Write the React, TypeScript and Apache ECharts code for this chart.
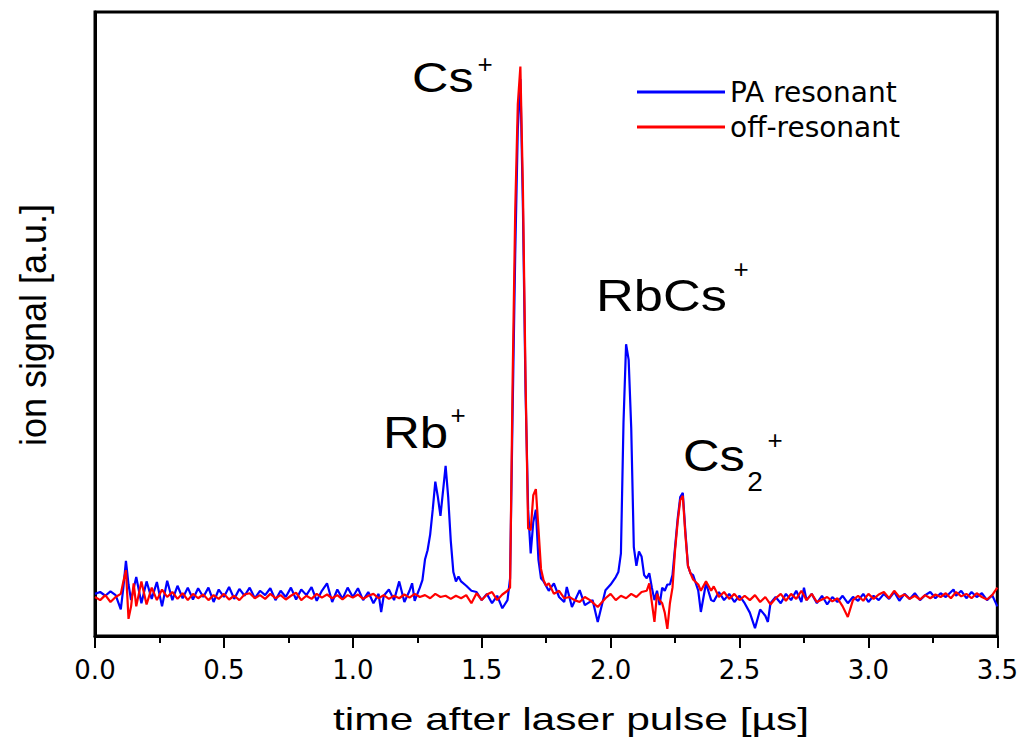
import React, { useEffect, useRef } from "react";
import * as echarts from "echarts";

// time [µs], ion signal [a.u.] (baseline ≈ 0)
const blueData: [number, number][] = [
  [0.0, 0.5], [0.02, 0.8], [0.04, 0.2], [0.06, 0.9], [0.08, 0.3], [0.1, -2.0], [0.11, 1.5], [0.12, 5.8], [0.13, 2.0], [0.14, -0.5],
  [0.16, 3.2], [0.18, -1.0], [0.2, 2.5], [0.22, -0.3], [0.24, 2.4], [0.26, -1.5], [0.28, 2.6], [0.3, -0.5], [0.32, 1.8], [0.34, -0.2],
  [0.36, 1.5], [0.38, -0.4], [0.4, 1.4], [0.42, 0.0], [0.44, 1.5], [0.46, -0.8], [0.48, 1.2], [0.5, 0.0], [0.52, 1.6], [0.54, -0.3],
  [0.56, 1.3], [0.58, 0.2], [0.6, 1.5], [0.62, -0.2], [0.64, 1.0], [0.66, 0.3], [0.68, 1.4], [0.7, -0.5], [0.72, 1.0], [0.74, 0.0],
  [0.76, 1.5], [0.78, -0.4], [0.8, 1.2], [0.82, 0.3], [0.84, 1.6], [0.86, -0.6], [0.88, 1.0], [0.9, 2.2], [0.92, -0.8], [0.94, 1.2],
  [0.96, -0.3], [0.98, 1.5], [1.0, 0.0], [1.02, 1.4], [1.04, -0.5], [1.06, 0.8], [1.08, -1.0], [1.1, 0.5], [1.11, -2.4], [1.12, 0.2],
  [1.14, 1.2], [1.16, -0.5], [1.18, 2.5], [1.2, -0.8], [1.22, 1.0], [1.23, 2.2], [1.24, -0.6], [1.26, 1.5], [1.27, 2.7], [1.28, 6.0],
  [1.29, 7.5], [1.3, 10.0], [1.31, 14.0], [1.32, 18.5], [1.33, 16.0], [1.34, 13.0], [1.35, 17.0], [1.36, 21.0], [1.37, 16.0], [1.38, 9.0],
  [1.39, 4.0], [1.4, 2.5], [1.41, 3.3], [1.42, 2.5], [1.44, 1.8], [1.46, 1.0], [1.48, 0.8], [1.5, -0.5], [1.52, 0.5], [1.54, -1.0],
  [1.56, 0.2], [1.58, -1.8], [1.6, -0.5], [1.61, 3.0], [1.62, 30.0], [1.63, 55.0], [1.64, 75.0], [1.65, 83.0], [1.66, 62.0], [1.67, 33.0],
  [1.68, 14.0], [1.69, 7.0], [1.7, 12.0], [1.71, 14.0], [1.72, 6.0], [1.73, 3.0], [1.74, 2.5], [1.76, 1.0], [1.78, 2.2], [1.8, 0.0],
  [1.82, -0.8], [1.83, 1.6], [1.85, -1.6], [1.88, 1.1], [1.9, -1.3], [1.93, -0.5], [1.95, -4.0], [1.98, 1.1], [2.0, 2.0], [2.01, 2.6],
  [2.02, 3.2], [2.03, 4.0], [2.04, 7.0], [2.05, 28.0], [2.06, 40.5], [2.07, 38.0], [2.08, 27.0], [2.09, 8.0], [2.1, 5.0], [2.11, 7.3],
  [2.12, 6.5], [2.13, 3.5], [2.14, 3.0], [2.15, 3.8], [2.16, 1.5], [2.17, -0.5], [2.18, 1.0], [2.19, -1.3], [2.2, 1.5], [2.21, 1.0],
  [2.22, 2.0], [2.23, 2.0], [2.24, 3.5], [2.25, 8.0], [2.26, 12.5], [2.27, 16.0], [2.28, 16.7], [2.29, 10.5], [2.3, 5.0], [2.31, 3.8],
  [2.32, 3.5], [2.34, 1.0], [2.35, -2.4], [2.37, 2.2], [2.39, -0.5], [2.4, -0.7], [2.42, 0.8], [2.44, -0.5], [2.46, 0.5], [2.48, -0.8],
  [2.5, 0.2], [2.52, -1.0], [2.54, -2.5], [2.56, -5.0], [2.58, -2.0], [2.6, -3.0], [2.61, -4.0], [2.62, -1.0], [2.64, 0.0], [2.66, -1.0],
  [2.68, 0.5], [2.7, -0.5], [2.72, 1.0], [2.74, -0.8], [2.75, 1.5], [2.76, -0.5], [2.78, 0.5], [2.8, -1.0], [2.82, 0.2], [2.84, -1.2],
  [2.86, 0.0], [2.88, -0.8], [2.9, 0.2], [2.92, -1.0], [2.94, 0.0], [2.96, -0.6], [2.98, 0.5], [3.0, -0.8], [3.02, 0.2], [3.04, -0.5],
  [3.06, 0.5], [3.08, -0.3], [3.1, 0.8], [3.12, -0.6], [3.14, 0.5], [3.16, -0.3], [3.18, 0.6], [3.2, -0.5], [3.22, 0.3], [3.24, 0.8],
  [3.26, -0.2], [3.28, 0.6], [3.3, 0.0], [3.33, 1.2], [3.34, 0.2], [3.36, 1.0], [3.38, -0.2], [3.4, 0.8], [3.42, 0.0], [3.44, 0.6],
  [3.46, -0.5], [3.48, 0.3], [3.5, -1.5],
];

const redData: [number, number][] = [
  [0.0, 0.0], [0.02, -0.5], [0.04, 0.3], [0.06, -0.8], [0.08, 0.0], [0.1, 0.5], [0.11, 2.5], [0.12, 4.3], [0.13, -3.5], [0.14, -1.5],
  [0.15, 2.2], [0.16, -1.5], [0.18, 2.5], [0.2, -1.2], [0.22, 1.5], [0.24, -0.5], [0.26, 1.2], [0.28, 0.0], [0.3, 0.8], [0.32, -0.3],
  [0.34, 0.6], [0.36, -0.5], [0.38, 0.5], [0.4, -0.2], [0.42, 0.4], [0.44, -0.5], [0.46, 0.3], [0.48, -0.3], [0.5, 0.5], [0.52, -0.4],
  [0.54, 0.2], [0.56, -0.5], [0.58, 0.4], [0.6, 0.6], [0.62, -0.2], [0.64, 0.3], [0.66, -0.3], [0.68, 0.5], [0.7, -0.2], [0.72, 0.3],
  [0.74, -0.4], [0.76, 0.2], [0.78, 0.7], [0.8, -0.5], [0.82, 0.2], [0.84, -0.3], [0.86, 0.5], [0.88, -0.1], [0.9, 0.4], [0.92, -0.2],
  [0.94, 0.3], [0.96, -0.4], [0.98, 0.3], [1.0, -0.1], [1.02, 0.4], [1.04, -0.3], [1.06, 0.2], [1.08, 0.5], [1.1, -0.2], [1.12, 0.3],
  [1.14, -0.3], [1.16, 0.2], [1.18, -0.2], [1.2, 0.4], [1.22, -0.1], [1.24, 0.5], [1.26, 0.0], [1.28, 0.3], [1.3, -0.2], [1.32, 0.5],
  [1.34, 0.0], [1.36, 0.2], [1.38, -0.3], [1.4, 0.2], [1.42, -0.2], [1.44, 0.3], [1.46, -1.0], [1.48, 0.6], [1.5, -0.5], [1.52, 0.4],
  [1.54, 0.8], [1.56, -0.5], [1.58, 0.4], [1.6, 1.0], [1.61, 1.5], [1.62, 35.0], [1.63, 62.0], [1.64, 79.0], [1.65, 85.0], [1.66, 65.0],
  [1.67, 35.0], [1.68, 11.0], [1.69, 10.7], [1.7, 16.3], [1.71, 17.3], [1.72, 11.0], [1.73, 4.5], [1.74, 2.7], [1.75, 1.8], [1.76, 2.2],
  [1.78, 0.5], [1.8, 1.0], [1.82, -0.2], [1.84, 0.0], [1.86, -0.5], [1.88, -0.8], [1.9, 0.0], [1.92, -0.5], [1.95, -1.6], [1.98, -0.2],
  [2.0, 0.5], [2.02, -0.5], [2.04, 0.2], [2.06, -0.2], [2.08, 0.5], [2.1, 0.0], [2.12, 0.8], [2.14, 1.0], [2.15, 2.2], [2.17, -4.0],
  [2.18, 0.5], [2.19, -0.5], [2.2, -1.0], [2.21, -2.5], [2.22, -5.1], [2.23, -1.0], [2.24, 1.5], [2.25, 7.5], [2.26, 12.0], [2.27, 15.5],
  [2.28, 16.2], [2.29, 10.0], [2.3, 5.0], [2.31, 3.8], [2.32, 2.8], [2.34, 2.0], [2.35, 1.0], [2.37, 2.5], [2.39, 1.0], [2.4, 1.7],
  [2.42, 0.0], [2.44, 0.8], [2.46, -0.3], [2.48, 0.5], [2.5, -0.5], [2.52, 0.2], [2.54, -0.5], [2.56, 0.3], [2.58, -0.8], [2.6, 0.0],
  [2.62, -1.2], [2.64, -0.2], [2.66, 0.5], [2.68, -0.6], [2.7, 0.5], [2.72, -0.3], [2.74, 1.0], [2.76, -0.5], [2.78, 0.5], [2.8, -0.8],
  [2.82, -0.4], [2.84, 0.0], [2.86, -0.7], [2.88, -0.2], [2.9, -1.5], [2.92, -3.2], [2.94, -0.5], [2.96, 0.2], [2.98, -0.6], [3.0, 0.5],
  [3.02, -0.3], [3.04, 0.4], [3.06, 0.8], [3.08, -0.2], [3.1, 1.0], [3.12, 0.0], [3.14, 0.4], [3.16, -0.3], [3.18, 0.2], [3.2, -0.4],
  [3.22, 0.3], [3.24, -0.2], [3.26, 0.4], [3.28, 0.0], [3.3, 0.6], [3.32, -0.2], [3.34, 0.8], [3.36, 0.1], [3.38, 0.5], [3.4, -0.2],
  [3.42, 0.6], [3.44, 0.0], [3.46, -0.4], [3.48, 0.3], [3.5, 1.5],
];

const seriesNames = ["PA resonant", "off-resonant"];
const xTicks = { min: 0, max: 3.5, step: 0.5 };
const yRange = { min: -6.25, max: 93.75 };

const FONT = "'Liberation Sans', Arial, sans-serif";

export default function App() {
  const ref = useRef<HTMLDivElement>(null);

  useEffect(() => {
    document.body.style.margin = "0";
    const chart = echarts.init(ref.current!, null, { renderer: "svg" });

    const label = (text: string, x: number, y: number, size: number, sx = 1, align = "left") => ({
      type: "text",
      x,
      y,
      scaleX: sx,
      style: { text, fontSize: size, fontFamily: FONT, fill: "#000", align, verticalAlign: "middle" },
      z: 10,
    });

    chart.setOption({
      animation: false,
      backgroundColor: "#ffffff",
      grid: {
        left: 95,
        right: 21,
        top: 12,
        bottom: 103,
        show: true,
        borderColor: "#000",
        borderWidth: 3,
        backgroundColor: "transparent",
      },
      legend: {
        orient: "vertical",
        left: 637,
        top: 78,
        padding: 0,
        itemGap: 7,
        itemWidth: 88,
        itemHeight: 3,
        icon: "rect",
        data: seriesNames,
        textStyle: { fontFamily: "'DejaVu Sans', sans-serif", fontSize: 28, lineHeight: 28, color: "#000" },
      },
      xAxis: {
        type: "value",
        min: xTicks.min,
        max: xTicks.max,
        interval: xTicks.step,
        axisLine: { show: true, onZero: false, lineStyle: { color: "#000", width: 3 } },
        axisTick: { show: true, inside: false, length: 12, lineStyle: { color: "#000", width: 2 } },
        minorTick: { show: true, splitNumber: 2, length: 7, lineStyle: { color: "#000", width: 2 } },
        splitLine: { show: false },
        axisLabel: {
          showMinLabel: true,
          showMaxLabel: true,
          formatter: (v: number) => v.toFixed(1),
          fontFamily: "'DejaVu Sans', sans-serif",
          fontSize: 26,
          color: "#000",
          margin: 21,
        },
      },
      yAxis: {
        type: "value",
        min: yRange.min,
        max: yRange.max,
        axisLine: { show: true, onZero: false, lineStyle: { color: "#000", width: 3 } },
        axisTick: { show: false },
        axisLabel: { show: false },
        splitLine: { show: false },
      },
      series: [
        {
          name: seriesNames[0],
          type: "line",
          data: blueData,
          showSymbol: false,
          symbol: "none",
          lineStyle: { color: "#0000ff", width: 2.2 },
          itemStyle: { color: "#0000ff" },
          z: 2,
        },
        {
          name: seriesNames[1],
          type: "line",
          data: redData,
          showSymbol: false,
          symbol: "none",
          lineStyle: { color: "#ff0000", width: 2.2 },
          itemStyle: { color: "#ff0000" },
          z: 3,
        },
      ],
      graphic: [
        label("Cs", 412, 78, 42, 1.2),
        label("+", 485, 64, 26, 1, "center"),
        label("Rb", 383, 433, 44, 1.16),
        label("+", 458, 415, 26, 1, "center"),
        label("RbCs", 596, 296, 44, 1.19),
        label("+", 741, 269, 26, 1, "center"),
        label("Cs", 683, 456, 44, 1.15),
        label("2", 755, 481, 28, 1, "center"),
        label("+", 775, 440, 26, 1, "center"),
        label("time after laser pulse [µs]", 333, 719, 32, 1.33),
        {
          type: "text",
          x: 33,
          y: 325,
          rotation: Math.PI / 2,
          style: {
            text: "ion signal [a.u.]",
            fontSize: 36,
            fontFamily: FONT,
            fill: "#000",
            align: "center",
            verticalAlign: "middle",
          },
        },
      ],
    });

    return () => chart.dispose();
  }, []);

  return <div ref={ref} style={{ width: 1021, height: 739 }} />;
}
